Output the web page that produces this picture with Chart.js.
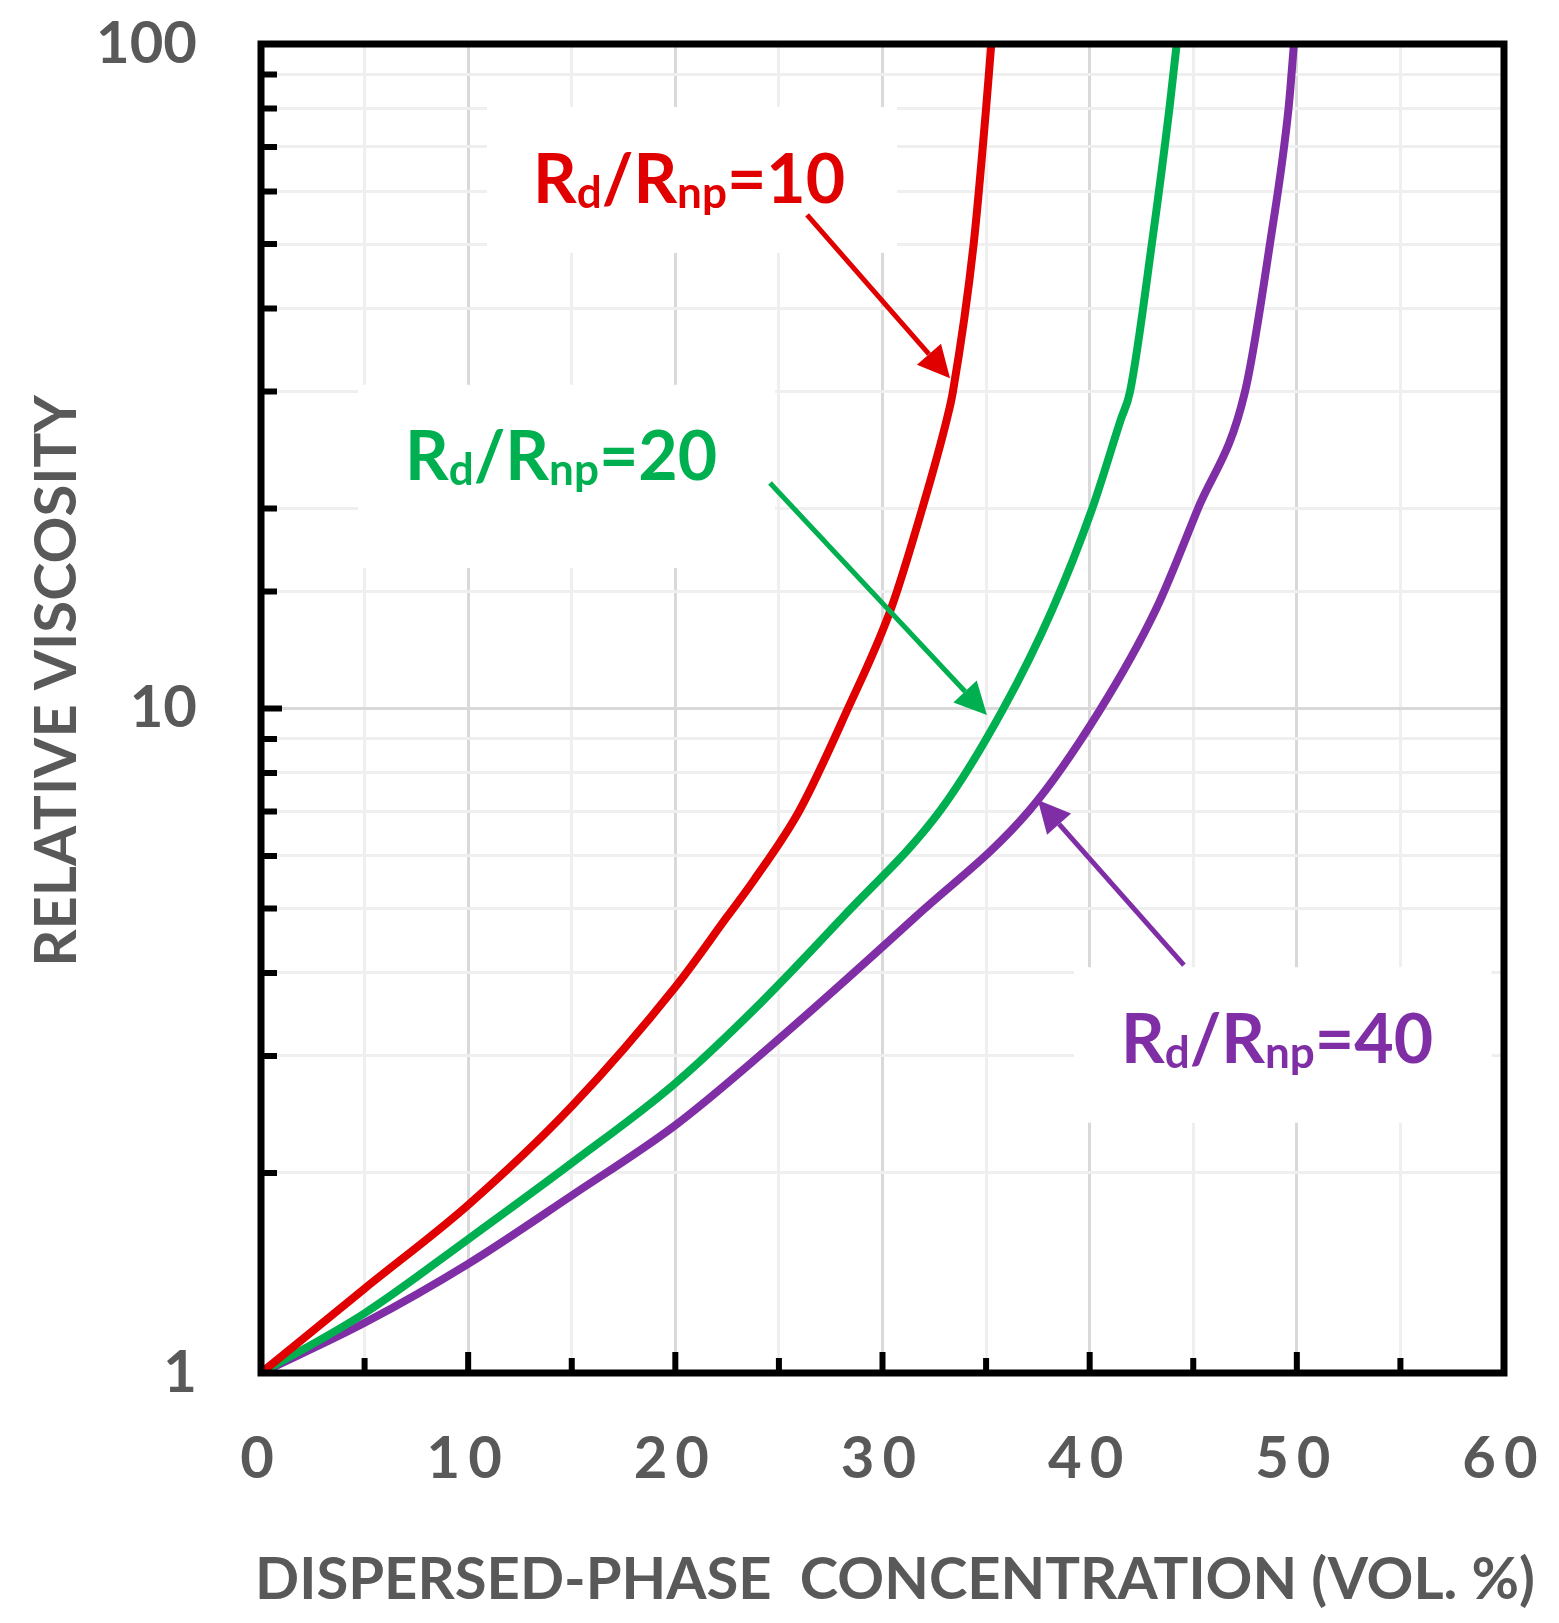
<!DOCTYPE html>
<html>
<head>
<meta charset="utf-8">
<style>
  html, body { margin: 0; padding: 0; background: #fff; }
  #wrap { width: 1559px; height: 1623px; }
</style>
<script src="https://cdn.jsdelivr.net/npm/chart.js@4.4.1/dist/chart.umd.min.js"></script>
</head>
<body>
<div id="wrap"><canvas id="chart" width="1559" height="1623"></canvas></div>
<script>
// values: concentration (vol. %) -> relative viscosity
const phiR10 = [0, 5, 10, 15, 20, 22.5, 23.8, 26, 28.3, 30.4, 31.9, 33.1, 33.4, 34.4, 35.0, 35.25];
const etaR10 = [1, 1.34, 1.79, 2.52, 3.81, 4.86, 5.52, 7.03, 9.95, 14.1, 19.9, 27.2, 30, 50, 80, 100];

const phiR20 = [0, 5, 10, 15, 20, 24.1, 28.1, 32.8, 35.8, 38.2, 40.1, 41.5, 41.95, 43.0, 43.85, 44.2];
const etaR20 = [1, 1.23, 1.59, 2.07, 2.73, 3.6, 4.86, 7.03, 9.95, 14.1, 19.9, 27.2, 30, 50, 80, 100];

const phiR40 = [0, 5, 10, 15, 20, 24.1, 31.6, 37.1, 40.5, 43.2, 45.2, 47.5, 48.7, 49.6, 49.86];
const etaR40 = [1, 1.19, 1.46, 1.85, 2.36, 3.01, 4.86, 7.03, 9.95, 14.1, 19.9, 30, 50, 80, 100];

const xLabelTicks = [0, 10, 20, 30, 40, 50, 60];
const yLabelTicks = [1, 10, 100];

const RED = '#e00000', GREEN = '#00b050', PURPLE = '#7f2ea6', GREY = '#595959';
const FONT = 'Lato, "Open Sans", sans-serif';

const toPoints = (xs, ys) => xs.map((x, i) => ({x: x, y: ys[i]}));

// curve labels, positions in data units (x = vol. %, y = viscosity)
const curveLabels = [
  {parts: [['R',0],['d',1],['/R',0],['np',1],['=10',0]], color: RED,
   at: [13.13, 57.6], box: [10.91, 80.4, 30.7, 48.5], from: [26.36, 55.3], to: [33.26, 31.4]},
  {parts: [['R',0],['d',1],['/R',0],['np',1],['=20',0]], color: GREEN,
   at: [6.95, 22.07], box: [4.68, 30.7, 24.81, 16.27], from: [24.57, 21.84], to: [35.04, 9.78]},
  {parts: [['R',0],['d',1],['/R',0],['np',1],['=40',0]], color: PURPLE,
   at: [41.51, 2.93], box: [39.24, 4.08, 59.4, 2.38], from: [44.55, 4.11], to: [37.5, 7.28]}
];

function arrow(ctx, x0, y0, x1, y1, color) {
  const ang = Math.atan2(y1 - y0, x1 - x0), head = 32, half = 16;
  const bx = x1 - head * Math.cos(ang), by = y1 - head * Math.sin(ang);
  ctx.strokeStyle = color; ctx.fillStyle = color; ctx.lineWidth = 5;
  ctx.beginPath(); ctx.moveTo(x0, y0); ctx.lineTo(bx, by); ctx.stroke();
  ctx.beginPath();
  ctx.moveTo(x1, y1);
  ctx.lineTo(bx + half * Math.sin(ang), by - half * Math.cos(ang));
  ctx.lineTo(bx - half * Math.sin(ang), by + half * Math.cos(ang));
  ctx.closePath(); ctx.fill();
}

const decor = {
  id: 'decor',
  beforeDatasetsDraw(chart) {
    const {ctx, scales: {x, y}} = chart;
    ctx.save();
    ctx.fillStyle = '#fff';
    curveLabels.forEach(l => {
      const x0 = x.getPixelForValue(l.box[0]), y0 = y.getPixelForValue(l.box[1]);
      const x1 = x.getPixelForValue(l.box[2]), y1 = y.getPixelForValue(l.box[3]);
      ctx.fillRect(x0, y0, x1 - x0, y1 - y0);
    });
    ctx.restore();
  },
  afterDatasetsDraw(chart) {
    const {ctx, chartArea: a, scales: {x, y}} = chart;
    ctx.save();
    curveLabels.forEach(l => {
      arrow(ctx, x.getPixelForValue(l.from[0]), y.getPixelForValue(l.from[1]),
        x.getPixelForValue(l.to[0]), y.getPixelForValue(l.to[1]), l.color);
      let px = x.getPixelForValue(l.at[0]);
      const py = y.getPixelForValue(l.at[1]);
      ctx.fillStyle = l.color;
      ctx.textAlign = 'left'; ctx.textBaseline = 'alphabetic';
      l.parts.forEach(([t, sub]) => {
        ctx.font = sub ? 'bold 44px ' + FONT : 'bold 68px ' + FONT;
        ctx.fillText(t, px, py + (sub ? 5 : 0));
        px += ctx.measureText(t).width;
      });
    });

    // frame
    ctx.strokeStyle = '#000'; ctx.lineWidth = 7;
    ctx.strokeRect(a.left, a.top, a.right - a.left, a.bottom - a.top);

    // inward tick marks
    ctx.lineWidth = 6;
    ctx.beginPath();
    x.ticks.forEach(t => {
      const p = x.getPixelForValue(t.value);
      if (t.value <= 0 || t.value >= 60) return;
      ctx.moveTo(p, a.bottom); ctx.lineTo(p, a.bottom - (t.value % 10 === 0 ? 21 : 15));
    });
    y.ticks.forEach(t => {
      const p = y.getPixelForValue(t.value);
      if (t.value <= 1 || t.value >= 100) return;
      ctx.moveTo(a.left, p); ctx.lineTo(a.left + (yLabelTicks.includes(t.value) ? 21 : 16), p);
    });
    ctx.stroke();

    // axis titles
    ctx.fillStyle = GREY;
    ctx.font = 'bold 58px ' + FONT;
    ctx.textAlign = 'center'; ctx.textBaseline = 'alphabetic';
    ctx.fillText('DISPERSED-PHASE  CONCENTRATION (VOL. %)', 895, 1599);
    ctx.translate(76, 681);
    ctx.rotate(-Math.PI / 2);
    ctx.fillText('RELATIVE VISCOSITY', 0, 0);
    ctx.restore();

    // x tick labels (drawn on a later layer) are letter-spaced
    ctx.letterSpacing = '8px';
  },
  afterDraw(chart) {
    chart.ctx.letterSpacing = '0px';
  }
};

function draw() {
  new Chart(document.getElementById('chart'), {
    type: 'line',
    data: {
      datasets: [
        {label: 'Rd/Rnp=10', data: toPoints(phiR10, etaR10), borderColor: RED},
        {label: 'Rd/Rnp=20', data: toPoints(phiR20, etaR20), borderColor: GREEN},
        {label: 'Rd/Rnp=40', data: toPoints(phiR40, etaR40), borderColor: PURPLE}
      ]
    },
    options: {
      responsive: false,
      devicePixelRatio: 1,
      animation: false,
      layout: {padding: {top: 44, right: 55, left: 0, bottom: 0}},
      plugins: {legend: {display: false}, tooltip: {enabled: false}},
      elements: {
        point: {radius: 0},
        line: {borderWidth: 8, cubicInterpolationMode: 'monotone', fill: false, borderCapStyle: 'butt'}
      },
      scales: {
        x: {
          type: 'linear', min: 0, max: 60,
          afterFit: s => { s.height = 250; s.paddingLeft = 0; s.paddingRight = 0; },
          border: {display: false},
          grid: {drawTicks: false, lineWidth: 3,
            color: c => (c.tick && c.tick.value % 10 === 0) ? '#d9d9d9' : '#efefef'},
          ticks: {z: 1, stepSize: 5, autoSkip: false, maxRotation: 0, padding: 51, color: GREY,
            font: {family: FONT, weight: 'bold', size: 58},
            callback: v => xLabelTicks.includes(v) ? String(v) : ''}
        },
        y: {
          type: 'logarithmic', min: 1, max: 100,
          afterFit: s => { s.width = 261; s.paddingTop = 0; s.paddingBottom = 0; },
          border: {display: false},
          grid: {drawTicks: false, lineWidth: 3,
            color: c => (c.tick && c.tick.value === 10) ? '#d9d9d9' : '#efefef'},
          ticks: {autoSkip: false, padding: 64, color: GREY,
            font: {family: FONT, weight: 'bold', size: 58},
            callback: v => yLabelTicks.includes(v) ? String(v) : ''}
        }
      }
    },
    plugins: [decor]
  });
}

document.fonts.load('bold 66px Lato').then(draw, draw);
</script>
</body>
</html>
